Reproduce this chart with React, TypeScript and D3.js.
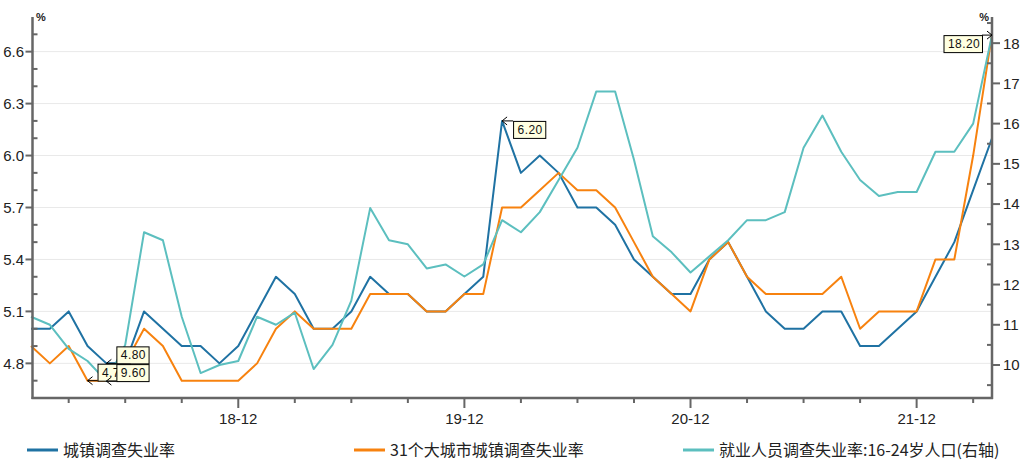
import React, { useEffect, useRef } from "react";
import * as d3 from "d3";

// months 2018-01 .. 2022-04
const months = [
  "18-01", "18-02", "18-03", "18-04", "18-05", "18-06", "18-07", "18-08", "18-09", "18-10", "18-11", "18-12",
  "19-01", "19-02", "19-03", "19-04", "19-05", "19-06", "19-07", "19-08", "19-09", "19-10", "19-11", "19-12",
  "20-01", "20-02", "20-03", "20-04", "20-05", "20-06", "20-07", "20-08", "20-09", "20-10", "20-11", "20-12",
  "21-01", "21-02", "21-03", "21-04", "21-05", "21-06", "21-07", "21-08", "21-09", "21-10", "21-11", "21-12",
  "22-01", "22-02", "22-03", "22-04",
];

const urbanRate = [
  5.0, 5.0, 5.1, 4.9, 4.8, 4.8, 5.1, 5.0, 4.9, 4.9, 4.8, 4.9,
  5.1, 5.3, 5.2, 5.0, 5.0, 5.1, 5.3, 5.2, 5.2, 5.1, 5.1, 5.2,
  5.3, 6.2, 5.9, 6.0, 5.9, 5.7, 5.7, 5.6, 5.4, 5.3, 5.2, 5.2,
  5.4, 5.5, 5.3, 5.1, 5.0, 5.0, 5.1, 5.1, 4.9, 4.9, 5.0, 5.1,
  5.3, 5.5, 5.8, 6.1,
];

const cityRate = [
  4.9, 4.8, 4.9, 4.7, 4.7, 4.8, 5.0, 4.9, 4.7, 4.7, 4.7, 4.7,
  4.8, 5.0, 5.1, 5.0, 5.0, 5.0, 5.2, 5.2, 5.2, 5.1, 5.1, 5.2,
  5.2, 5.7, 5.7, 5.8, 5.9, 5.8, 5.8, 5.7, 5.5, 5.3, 5.2, 5.1,
  5.4, 5.5, 5.3, 5.2, 5.2, 5.2, 5.2, 5.3, 5.0, 5.1, 5.1, 5.1,
  5.4, 5.4, 6.0, 6.7,
];

const youthRate = [
  11.2, 11.0, 10.4, 10.1, 9.6, 10.5, 13.3, 13.1, 11.2, 9.8, 10.0, 10.1,
  11.2, 11.0, 11.3, 9.9, 10.5, 11.6, 13.9, 13.1, 13.0, 12.4, 12.5, 12.2,
  12.5, 13.6, 13.3, 13.8, 14.6, 15.4, 16.8, 16.8, 15.1, 13.2, 12.8, 12.3,
  12.7, 13.1, 13.6, 13.6, 13.8, 15.4, 16.2, 15.3, 14.6, 14.2, 14.3, 14.3,
  15.3, 15.3, 16.0, 18.2,
];

const leftTicks = [4.8, 5.1, 5.4, 5.7, 6.0, 6.3, 6.6];
const rightTicks = [10, 11, 12, 13, 14, 15, 16, 17, 18];
const xTickLabels = ["18-12", "19-12", "20-12", "21-12"];

const seriesNames = ["城镇调查失业率", "31个大城市城镇调查失业率", "就业人员调查失业率:16-24岁人口(右轴)"];
const seriesColors = ["#1f72a3", "#f7820f", "#5cbfbf"];

// value tips: series index, month, placement, visible chars (box partly covered by next one)
const tips = [
  { s: 0, m: "18-05", place: "ur", show: 4 },
  { s: 1, m: "18-04", place: "ur", show: 3 },
  { s: 2, m: "18-05", place: "ur", show: 4 },
  { s: 0, m: "20-02", place: "dr", show: 4 },
  { s: 2, m: "22-04", place: "dl", show: 5 },
];

const W = 1030;
const H = 467;
const numFont = "'Liberation Sans', Arial, sans-serif";
const cjkFont = "'Noto Sans CJK SC', sans-serif";

const App = () => {
  const svgRef = useRef(null);

  useEffect(() => {
    const svg = d3.select(svgRef.current);
    svg.selectAll("*").remove();

    const left = 32.5, right = 992, top = 17, bottom = 398;

    const x = d3.scalePoint().domain(months).range([31, 992]);
    const yL = d3.scaleLinear().domain([4.6, 6.8]).range([bottom, top]);
    const yR = d3.scaleLinear().domain([9.18, 18.65]).range([bottom, top]);
    const axisColor = "#666";

    // grid
    svg.append("g").selectAll("line").data(leftTicks).enter().append("line")
      .attr("x1", left).attr("x2", right)
      .attr("y1", d => yL(d)).attr("y2", d => yL(d))
      .attr("stroke", "#e9e9e9").attr("stroke-width", 1);

    // series
    const data = [urbanRate, cityRate, youthRate];
    const scales = [yL, yL, yR];
    data.forEach((vals, i) => {
      const line = d3.line<number>()
        .x((_, j) => x(months[j]))
        .y(d => scales[i](d));
      svg.append("path")
        .datum(vals)
        .attr("fill", "none")
        .attr("stroke", seriesColors[i])
        .attr("stroke-width", 2)
        .attr("stroke-linejoin", "round")
        .attr("d", line);
    });

    // left axis
    const ax = svg.append("g");
    ax.append("line").attr("x1", left).attr("x2", left).attr("y1", top).attr("y2", bottom + 1)
      .attr("stroke", axisColor).attr("stroke-width", 2.5);
    const leftMinor = d3.range(47, 68).map(v => v / 10).filter(v => !leftTicks.some(t => Math.abs(t - v) < 1e-6));
    ax.selectAll(".lminor").data(leftMinor).enter().append("line")
      .attr("x1", left).attr("x2", left + 5)
      .attr("y1", d => yL(d)).attr("y2", d => yL(d))
      .attr("stroke", axisColor).attr("stroke-width", 2);
    ax.selectAll(".lmajor").data(leftTicks).enter().append("line")
      .attr("x1", left - 7).attr("x2", left)
      .attr("y1", d => yL(d)).attr("y2", d => yL(d))
      .attr("stroke", axisColor).attr("stroke-width", 2);
    ax.selectAll(".llab").data(leftTicks).enter().append("text")
      .attr("x", 24).attr("y", d => yL(d)).attr("dy", "0.36em")
      .attr("text-anchor", "end")
      .attr("font-family", numFont).attr("font-size", 15).attr("fill", "#222")
      .text(d => d.toFixed(1));
    ax.append("text").attr("x", 36).attr("y", 21)
      .attr("font-family", numFont).attr("font-size", 11).attr("font-weight", "bold").attr("fill", "#222")
      .text("%");

    // right axis
    ax.append("line").attr("x1", right).attr("x2", right).attr("y1", top).attr("y2", bottom + 1)
      .attr("stroke", axisColor).attr("stroke-width", 2.5);
    const rightMinor = d3.range(19, 38, 2).map(v => v / 2);
    ax.selectAll(".rminor").data(rightMinor).enter().append("line")
      .attr("x1", right - 5).attr("x2", right)
      .attr("y1", d => yR(d)).attr("y2", d => yR(d))
      .attr("stroke", axisColor).attr("stroke-width", 2);
    ax.selectAll(".rmajor").data(rightTicks).enter().append("line")
      .attr("x1", right).attr("x2", right + 8)
      .attr("y1", d => yR(d)).attr("y2", d => yR(d))
      .attr("stroke", axisColor).attr("stroke-width", 2);
    ax.selectAll(".rlab").data(rightTicks).enter().append("text")
      .attr("x", 1003).attr("y", d => yR(d)).attr("dy", "0.36em")
      .attr("font-family", numFont).attr("font-size", 15).attr("fill", "#222")
      .text(d => String(d));
    ax.append("text").attr("x", 989).attr("y", 21).attr("text-anchor", "end")
      .attr("font-family", numFont).attr("font-size", 11).attr("font-weight", "bold").attr("fill", "#222")
      .text("%");

    // x axis
    ax.append("line").attr("x1", left - 1).attr("x2", right + 1).attr("y1", bottom).attr("y2", bottom)
      .attr("stroke", axisColor).attr("stroke-width", 2.5);
    const tickMonths = months.filter((_, j) => j % 3 === 2);
    ax.selectAll(".xt").data(tickMonths).enter().append("line")
      .attr("x1", d => x(d)).attr("x2", d => x(d))
      .attr("y1", bottom)
      .attr("y2", d => (xTickLabels.includes(d) ? bottom + 10 : bottom + 5))
      .attr("stroke", axisColor).attr("stroke-width", 2);
    ax.selectAll(".xl").data(xTickLabels).enter().append("text")
      .attr("x", d => x(d)).attr("y", 424).attr("text-anchor", "middle")
      .attr("font-family", numFont).attr("font-size", 15).attr("fill", "#222")
      .text(d => d);

    // value tips
    const tg = svg.append("g");
    tips.forEach(t => {
      const j = months.indexOf(t.m);
      const v = data[t.s][j];
      const px = x(t.m);
      const py = scales[t.s](v);
      const label = v.toFixed(2);
      const bw = label.length * 6.3 + 7;
      const bh = 17;
      let bx, by, ex;
      if (t.place === "ur") { bx = px + 10; by = py - bh; ex = bx; }
      else if (t.place === "dr") { bx = px + 11; by = py; ex = bx; }
      else { bx = px - 10 - bw; by = py; ex = bx + bw; }
      const dir = t.place === "dl" ? -1 : 1;
      tg.append("line").attr("x1", px).attr("x2", ex).attr("y1", py).attr("y2", py)
        .attr("stroke", "#000").attr("stroke-width", 1);
      tg.append("path")
        .attr("d", `M${px + dir * 5},${py - 4}L${px},${py}L${px + dir * 5},${py + 4}`)
        .attr("fill", "none").attr("stroke", "#000").attr("stroke-width", 1);
      tg.append("rect").attr("x", bx + 0.5).attr("y", by + 0.5).attr("width", bw).attr("height", bh)
        .attr("fill", "#ffffe1").attr("stroke", "#000").attr("stroke-width", 1);
      tg.append("text").attr("x", bx + 4.5).attr("y", by + 13)
        .attr("font-family", numFont).attr("font-size", 12).attr("fill", "#111")
        .attr("letter-spacing", 0.4)
        .text(label.slice(0, t.show));
    });

    // legend
    const legX = [27, 354, 683];
    const lg = svg.append("g");
    seriesNames.forEach((name, i) => {
      lg.append("line").attr("x1", legX[i]).attr("x2", legX[i] + 31).attr("y1", 450).attr("y2", 450)
        .attr("stroke", seriesColors[i]).attr("stroke-width", 3);
      lg.append("text").attr("x", legX[i] + 36).attr("y", 456)
        .attr("font-family", cjkFont).attr("font-size", 16).attr("fill", "#222")
        .text(name);
    });
  }, []);

  return (
    <div style={{ position: "absolute", left: 0, top: 0, width: W, height: H, background: "#fff" }}>
      <svg ref={svgRef} width={W} height={H} style={{ display: "block" }}></svg>
    </div>
  );
};

export default App;
